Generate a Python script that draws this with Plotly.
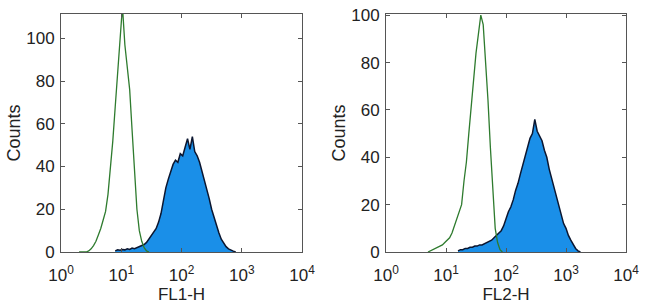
import plotly.graph_objects as go

# log10 bin grid (decades) -- bin starts and step
STEP = 0.04

# FL1 panel
fl1_ctrl_start = 0.30
fl1_ctrl = [0, 0, 0, 0, 0.5, 1.5, 3, 5, 8, 11, 15, 19, 27, 38, 52, 68, 84, 100, 115,
            97, 87, 76, 57, 38, 20, 10, 5, 2, 0.5, 0]
fl1_stain_start = 0.90
fl1_stain = [0.5, 1, 0.8, 1.2, 1, 1.5, 1.2, 1.8, 1.5, 2, 2.5, 3, 3.5, 4.5, 6, 7.5, 9, 11,
             14, 18, 24, 30, 34, 38, 41, 43, 42, 46, 45, 49, 53, 48, 54, 47, 45, 42, 38,
             33, 29, 25, 20, 16, 12, 9, 6, 4, 2.5, 1.5, 0.8, 0.4, 0]

# FL2 panel
fl2_ctrl_start = 0.70
fl2_ctrl = [0, 0.5, 1, 1.5, 2, 2.5, 3, 4, 5, 6, 8, 11, 14, 17, 20, 30, 38, 50, 62, 74,
            84, 92, 100, 96, 82, 64, 44, 24, 10, 4, 1, 0]
fl2_stain_start = 1.20
fl2_stain = [0.5, 1, 1, 1.5, 1.5, 2, 2, 2.5, 2.5, 3, 3, 3.5, 4, 4.5, 5, 6, 7, 8, 9, 11,
             14, 17, 19, 22, 26, 29, 33, 37, 40, 44, 48, 50, 56, 51, 49, 47, 43, 40, 35,
             31, 27, 23, 19, 15, 12, 10, 7, 5, 3, 1.5, 0.5, 0]

x_titles = ["FL1-H", "FL2-H"]
y_title = "Counts"
x_tickvals = [1, 10, 100, 1000, 10000]
x_ticktext = ["10<sup>0</sup>", "10<sup>1</sup>", "10<sup>2</sup>", "10<sup>3</sup>", "10<sup>4</sup>"]
y_tickvals = [0, 20, 40, 60, 80, 100]
y_ranges = [[0, 111.4], [0, 100.5]]


def xs(start, vals):
    return [10 ** (start + i * STEP) for i in range(len(vals))]


GREEN = "#2e7b2e"
BLUE = "#1a8fe8"
DARK = "#0b1630"

fig = go.Figure()
panels = [
    (fl1_ctrl_start, fl1_ctrl, fl1_stain_start, fl1_stain),
    (fl2_ctrl_start, fl2_ctrl, fl2_stain_start, fl2_stain),
]
for k, (cs, cv, ss, sv) in enumerate(panels):
    xa = "x" if k == 0 else "x2"
    ya = "y" if k == 0 else "y2"
    fig.add_trace(go.Scatter(x=xs(ss, sv), y=sv, mode="lines", fill="tozeroy",
                             fillcolor=BLUE, line=dict(color=DARK, width=1.5),
                             xaxis=xa, yaxis=ya, showlegend=False))
    fig.add_trace(go.Scatter(x=xs(cs, cv), y=cv, mode="lines",
                             line=dict(color=GREEN, width=1.3),
                             xaxis=xa, yaxis=ya, showlegend=False))

TICKFONT = dict(family="Liberation Sans, Arial, sans-serif", size=17, color="#222")
XTITLEFONT = dict(family="Liberation Sans, Arial, sans-serif", size=17, color="#222")
YTITLEFONT = dict(family="Liberation Sans, Arial, sans-serif", size=18, color="#222")
axis_common = dict(showline=True, linecolor="#555", linewidth=1, mirror="ticks",
                   ticks="inside", ticklen=4, tickcolor="#555", showgrid=False,
                   zeroline=False, tickfont=TICKFONT, automargin=False)

doms_x = [[61 / 650, 302 / 650], [386 / 650, 626 / 650]]
dom_y = [1 - 252 / 308, 1 - 14 / 308]

layout = dict(width=650, height=308, margin=dict(l=0, r=0, t=0, b=0, pad=0),
              paper_bgcolor="white", plot_bgcolor="white", font=TICKFONT)
for k in range(2):
    sx = "" if k == 0 else "2"
    layout["xaxis" + sx] = dict(axis_common, type="log", range=[0, 4], domain=doms_x[k],
                                anchor="y" + sx, tickvals=x_tickvals, ticktext=x_ticktext,
                                ticklabelstandoff=8,
                                title=dict(text=x_titles[k], font=XTITLEFONT, standoff=0))
    layout["yaxis" + sx] = dict(axis_common, range=y_ranges[k], domain=dom_y,
                                anchor="x" + sx, tickvals=y_tickvals,
                                ticklabelstandoff=2,
                                title=dict(text=y_title, font=YTITLEFONT, standoff=0))
fig.update_layout(**layout)
fig.write_html("out.html")
